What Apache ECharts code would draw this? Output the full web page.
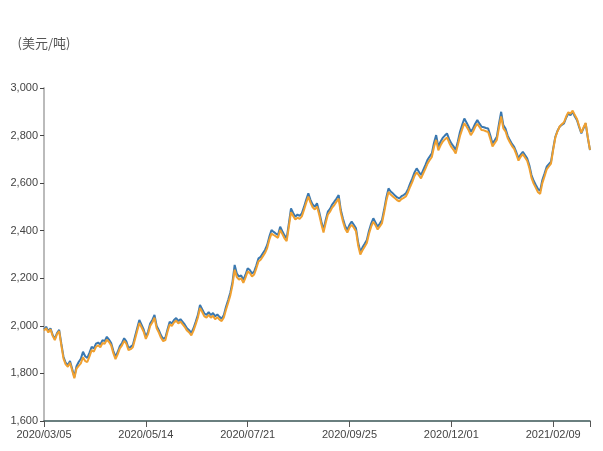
<!DOCTYPE html>
<html>
<head>
<meta charset="utf-8">
<script src="https://cdn.jsdelivr.net/npm/echarts@6/dist/echarts.min.js"></script>
<style>html,body{margin:0;padding:0;background:#fff}#c{width:603px;height:451px}</style>
</head>
<body>
<div id="c"></div>
<script>
// LME trading-day calendar (weekdays minus UK holidays)
const startDate = '2020-03-05';
const endDate = '2021-03-04';
const holidays = ['2020-04-10','2020-04-13','2020-05-08','2020-05-25','2020-08-31','2020-12-25','2020-12-28','2021-01-01'];
const yTicks = [1600, 1800, 2000, 2200, 2400, 2600, 2800, 3000];
const unitName = '(美元/吨)';

const seriesA = [1985,1996,1978,1990,1962,1945,1970,1983,1925,1870,1845,1835,1852,1820,1785,1830,1848,1862,1891,1872,
1865,1888,1912,1905,1925,1930,1922,1940,1936,1954,1942,1928,1895,1870,1890,1915,1928,1948,1935,1907,
1912,1920,1955,1990,2025,2005,1985,1954,1975,2010,2025,2046,2000,1982,1960,1945,1950,1985,2017,2010,
2025,2033,2020,2028,2017,2005,1990,1982,1970,1990,2017,2045,2088,2070,2052,2046,2058,2045,2054,2040,
2048,2038,2030,2046,2080,2109,2140,2185,2256,2220,2207,2212,2193,2215,2242,2235,2220,2228,2255,2284,
2290,2305,2319,2340,2375,2403,2395,2388,2382,2417,2398,2380,2368,2430,2494,2475,2459,2468,2462,2473,
2500,2530,2557,2530,2510,2501,2515,2480,2440,2403,2445,2480,2492,2510,2522,2535,2550,2487,2450,2420,
2403,2425,2438,2425,2410,2350,2312,2330,2345,2361,2400,2430,2452,2435,2417,2430,2445,2490,2540,2578,
2565,2557,2548,2540,2536,2545,2550,2557,2575,2599,2620,2645,2662,2648,2634,2655,2676,2698,2712,2725,
2770,2802,2753,2774,2790,2800,2809,2785,2767,2755,2739,2775,2816,2845,2872,2855,2837,2816,2830,2850,
2865,2850,2837,2835,2832,2830,2800,2767,2780,2795,2850,2900,2844,2830,2800,2781,2765,2753,2730,2704,
2720,2732,2718,2704,2675,2634,2610,2592,2575,2568,2613,2640,2669,2680,2690,2745,2795,2820,2837,2845,
2851,2875,2893,2885,2900,2880,2865,2835,2809,2830,2851,2790,2739];

const seriesB = [1980,1990,1972,1985,1958,1940,1965,1978,1918,1862,1838,1828,1845,1812,1780,1820,1832,1842,1868,1852,
1848,1872,1898,1892,1912,1918,1910,1928,1925,1942,1932,1918,1885,1860,1880,1905,1918,1937,1925,1898,
1902,1910,1944,1978,2012,1994,1975,1945,1965,2000,2014,2034,1990,1972,1950,1936,1940,1975,2006,2000,
2014,2022,2010,2018,2006,1995,1980,1972,1960,1980,2006,2034,2075,2058,2040,2035,2046,2034,2042,2028,
2036,2026,2020,2035,2068,2097,2128,2172,2236,2205,2194,2200,2181,2203,2229,2222,2208,2216,2242,2271,
2278,2292,2306,2327,2362,2388,2382,2376,2370,2403,2386,2368,2356,2416,2478,2462,2447,2455,2450,2460,
2487,2517,2543,2518,2498,2489,2502,2468,2428,2392,2432,2467,2480,2497,2508,2522,2535,2475,2438,2408,
2392,2413,2425,2413,2398,2338,2300,2318,2333,2348,2387,2417,2438,2423,2405,2418,2432,2477,2526,2563,
2552,2544,2536,2528,2524,2533,2538,2544,2562,2585,2605,2630,2646,2633,2620,2640,2660,2682,2697,2710,
2752,2782,2738,2758,2774,2784,2792,2770,2752,2740,2725,2760,2798,2826,2852,2838,2822,2802,2816,2836,
2850,2836,2823,2822,2818,2815,2786,2754,2768,2782,2834,2880,2830,2818,2790,2772,2756,2744,2721,2695,
2711,2722,2708,2694,2664,2622,2598,2580,2562,2555,2600,2628,2658,2670,2682,2740,2792,2818,2838,2848,
2856,2880,2898,2892,2905,2886,2870,2840,2812,2834,2853,2792,2740];

function tradingDays(s, e, hol) {
  const out = [];
  const d = new Date(s + 'T00:00:00Z');
  const end = new Date(e + 'T00:00:00Z');
  while (d <= end) {
    const wd = d.getUTCDay();
    const iso = d.toISOString().slice(0, 10);
    if (wd !== 0 && wd !== 6 && hol.indexOf(iso) < 0) out.push(iso.replace(/-/g, '/'));
    d.setUTCDate(d.getUTCDate() + 1);
  }
  return out;
}
const categories = tradingDays(startDate, endDate, holidays);
const lastIdx = categories.length - 1;

const chart = echarts.init(document.getElementById('c'));
chart.setOption({
  animation: false,
  grid: { left: 44, right: 13, top: 88, bottom: 30, containLabel: false },
  xAxis: {
    type: 'category',
    data: categories,
    boundaryGap: false,
    axisLine: { lineStyle: { color: '#3a5656', width: 1.5 } },
    axisTick: { interval: (i) => i % 47 === 0 || i === lastIdx, length: 6, lineStyle: { color: '#555' } },
    axisLabel: { interval: 46, color: '#444', fontSize: 11, margin: 8, fontFamily: 'Liberation Sans, Arial' },
    splitLine: { show: false }
  },
  yAxis: {
    type: 'value',
    min: yTicks[0],
    max: yTicks[yTicks.length - 1],
    interval: 200,
    name: unitName,
    nameLocation: 'end',
    nameGap: 38,
    nameTextStyle: { color: '#555', fontSize: 13, fontFamily: 'Noto Sans CJK SC' },
    axisLine: { show: true, lineStyle: { color: '#bbb', width: 2 } },
    axisTick: { show: true, length: 4, lineStyle: { color: '#444' } },
    axisLabel: { color: '#444', fontSize: 11, margin: 6, fontFamily: 'Liberation Sans, Arial',
      formatter: v => v.toLocaleString('en-US') },
    splitLine: { show: false }
  },
  series: [
    { name: 'A', type: 'line', data: seriesA, showSymbol: false, symbol: 'none',
      lineStyle: { color: '#3a78b0', width: 2 }, itemStyle: { color: '#3a78b0' } },
    { name: 'B', type: 'line', data: seriesB, showSymbol: false, symbol: 'none',
      lineStyle: { color: '#f0a030', width: 2 }, itemStyle: { color: '#f0a030' } }
  ]
});
</script>
</body>
</html>
